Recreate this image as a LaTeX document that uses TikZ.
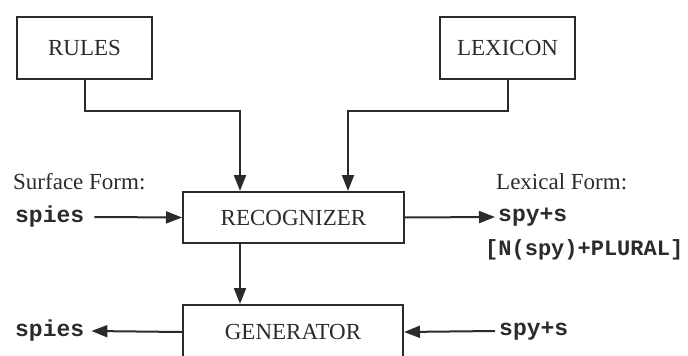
\documentclass[tikz,border=0pt]{standalone}
\usepackage{fontspec}
\setmainfont{Liberation Serif}
\setmonofont{Liberation Mono}
\usetikzlibrary{arrows.meta}
\definecolor{ink}{HTML}{2B2B2B}
\tikzset{
  x=1pt, y=-1pt,
  every node/.style={text=ink, font=\fontsize{23}{26}\selectfont},
  unit/.style={draw=ink, line width=2pt, inner sep=0pt},
  label/.style={inner sep=0pt, anchor=west},
  form/.style={inner sep=0pt, anchor=west, font=\fontsize{23}{26}\selectfont\ttfamily\bfseries},
  arr/.style={draw=ink, line width=2pt, -{Triangle[length=16pt, width=12pt]}},
}
\begin{document}
\begin{tikzpicture}
  \useasboundingbox (0,0) rectangle (688,356);
  \clip (0,0) rectangle (688,356);

  % knowledge sources
  \node[unit, minimum width=135pt, minimum height=62pt] (rules) at (84.5,48) {RULES};
  \node[unit, minimum width=135pt, minimum height=62pt] (lexicon) at (507.5,48) {LEXICON};

  % processing units
  \node[unit, minimum width=221pt, minimum height=51pt] (recog) at (293.5,217.5) {RECOGNIZER};
  \node[unit, minimum width=220pt, minimum height=54pt] (gen) at (293,332) {GENERATOR};

  % headings
  \node[label] (surf) at (13,182) {Surface Form:};
  \node[label] (lex) at (496,182) {Lexical Form:};

  % forms
  \node[form] (sin) at (15,217) {spies};
  \node[form] (lout) at (498,217) {spy+s};
  \node[form, font=\fontsize{22}{25}\selectfont\ttfamily\bfseries] (gloss) at (485,250) {[N(spy)+PLURAL]};
  \node[form] (sout) at (15,331) {spies};
  \node[form] (lin) at (499,331) {spy+s};

  % knowledge into the recognizer
  \draw[arr] (rules.south) -- ++(0,31) -| ([xshift=58pt]recog.north west);
  \draw[arr] (lexicon.south) -- ++(0,31) -| ([xshift=-57pt]recog.north east);

  % recognizer to generator
  \draw[arr] ([xshift=58pt]recog.south west) -- ([xshift=58pt]gen.north west);

  % surface and lexical forms
  \draw[arr] ([xshift=10pt]sin.east) -- (recog.west);
  \draw[arr] (recog.east) -- ([xshift=-3pt]lout.west);
  \draw[arr] (gen.west) -- ([xshift=7pt]sout.east);
  \draw[arr] ([xshift=-4pt]lin.west) -- (gen.east);
\end{tikzpicture}
\end{document}
